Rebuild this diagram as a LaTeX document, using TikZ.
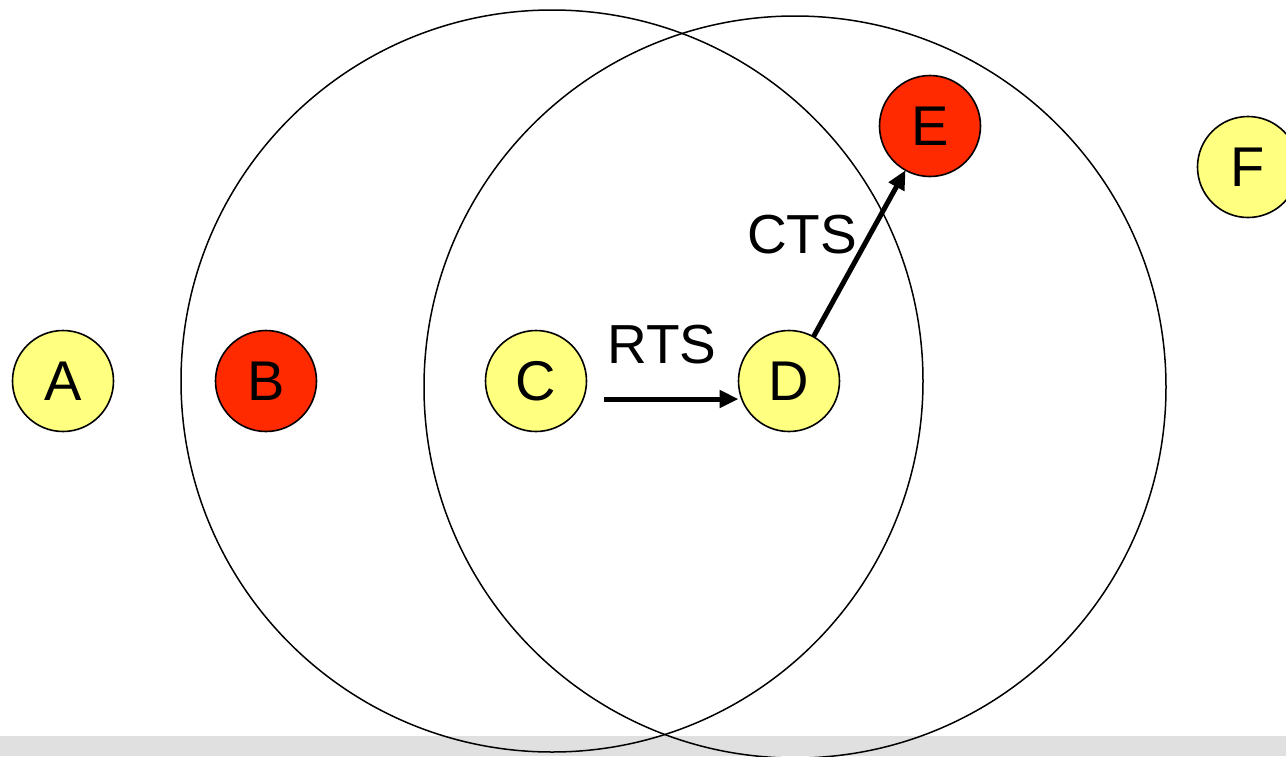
\documentclass[tikz,border=0pt]{standalone}
\usepackage{fontspec}
\setmainfont{Liberation Sans}
\usetikzlibrary{arrows.meta}
\definecolor{nodeyellow}{HTML}{FFFF80}
\definecolor{nodered}{HTML}{FF2A00}
\definecolor{bandgray}{HTML}{E0E0E0}
\tikzset{
  stn/.style={circle, draw=black, line width=1.6pt, minimum size=101pt, inner sep=0pt, outer sep=0pt, font=\fontsize{56}{56}\selectfont},
  ystn/.style={stn, fill=nodeyellow},
  rstn/.style={stn, fill=nodered},
  rangecircle/.style={draw=black, line width=1.5pt},
  msg/.style={draw=black, line width=5pt, -{Triangle[length=19pt,width=17pt]}},
  lbl/.style={font=\fontsize{55}{55}\selectfont, inner sep=0pt}
}
\begin{document}
\begin{tikzpicture}[x=1pt,y=-1pt]
\useasboundingbox (0,0) rectangle (1286,756);
\fill[bandgray] (0,736) rectangle (1286,756);
\draw[rangecircle] (552,381) circle (371);
\draw[rangecircle] (795,387) circle (371);
\node[ystn] (A) at (63,381) {A};
\node[rstn] (B) at (266,381) {B};
\node[ystn] (C) at (536,381) {C};
\node[ystn] (D) at (789,381) {D};
\node[rstn] (E) at (930,126) {E};
\node[ystn] (F) at (1248,167) {F};
\coordinate (rs) at (604,399);
\draw[msg] (rs) -- (rs -| D.west);
\draw[msg] (D) -- (E);
\node[lbl] (rts) at (662,345) {RTS};
\node[lbl] (cts) at (802,235) {CTS};
\end{tikzpicture}
\end{document}
